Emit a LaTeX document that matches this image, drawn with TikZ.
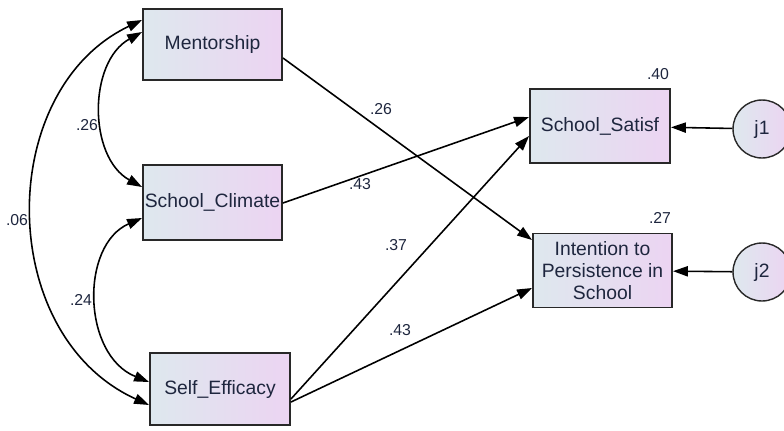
\documentclass[tikz,border=0pt]{standalone}
\usepackage{fontspec}
\setmainfont{Liberation Sans}
\usetikzlibrary{arrows.meta, positioning}
\definecolor{boxleft}{RGB}{222,232,238}
\definecolor{boxright}{RGB}{236,212,242}
\definecolor{mydark}{RGB}{40,40,40}
\definecolor{txtblue}{RGB}{30,38,62}
\tikzset{
  varbox/.style={rectangle, draw=mydark, left color=boxleft, right color=boxright,
    line width=1.1pt, align=center, font=\fontsize{11pt}{12.6pt}\selectfont,
    text=txtblue, inner sep=0pt},
  errcirc/.style={circle, draw=mydark, left color=boxleft, right color=boxright,
    line width=0.8pt, minimum size=33pt, inner sep=0pt,
    font=\fontsize{11pt}{12.6pt}\selectfont, text=txtblue},
  effect/.style={-{Triangle[length=8.5pt,width=5.8pt]}, line width=0.9pt, color=black},
  covar/.style={{Triangle[length=8.5pt,width=5.8pt]}-{Triangle[length=8.5pt,width=5.8pt]},
    line width=0.9pt, color=black},
  coef/.style={font=\fontsize{9pt}{10pt}\selectfont, text=txtblue, inner sep=0pt}
}
\begin{document}
\begin{tikzpicture}[x=0.02cm, y=-0.02cm]
  \useasboundingbox (0,0) rectangle (784,430);

  % exogenous variables
  \node[varbox, minimum width=139*0.02cm, minimum height=71*0.02cm] (mentor) at (212.5,44.5) {Mentorship};
  \node[varbox, minimum width=139*0.02cm, minimum height=75*0.02cm] (climate) at (212.5,202.5) {School\_Climate};
  \node[varbox, minimum width=140*0.02cm, minimum height=72*0.02cm] (efficacy) at (220,389) {Self\_Efficacy};

  % endogenous variables
  \node[varbox, minimum width=140*0.02cm, minimum height=74*0.02cm] (satisf) at (600,126) {School\_Satisf};
  \node[varbox, minimum width=139*0.02cm, minimum height=74*0.02cm] (intent) at (602.5,270.5) {Intention to\\Persistence in\\School};

  % errors
  \node[errcirc] (j1) at (762,129) {j1};
  \node[errcirc] (j2) at (762,272) {j2};

  % paths
  \draw[effect] (mentor.east |- 0,58) coordinate (m1) -- (intent.north west |- 0,240) coordinate (i1);
  \draw[effect] (climate.east |- 0,203) coordinate (c1) -- (satisf.west |- 0,117) coordinate (s1);
  \draw[effect] (efficacy.east |- 0,399) coordinate (e1) -- (satisf.west |- 0,136) coordinate (s2);
  \draw[effect] (efficacy.east |- 0,402) coordinate (e2) -- (intent.west |- 0,288) coordinate (i2);
  \draw[effect] (j1) -- (satisf);
  \draw[effect] (j2) -- (intent);

  % covariances
  \draw[covar] (mentor.west |- 0,32) coordinate (m2) .. controls (88,62) and (88,157) .. (climate.west |- 0,187) coordinate (c2);
  \draw[covar] (mentor.west |- 0,20) coordinate (m3) .. controls (-5,90) and (-5,335) .. (efficacy.west |- 0,405) coordinate (e3);
  \draw[covar] (climate.west |- 0,218) coordinate (c3) .. controls (80,245) and (82,355) .. (efficacy.west |- 0,382) coordinate (e4);

  % estimates
  \node[coef] (r2a) at (658,74) {.40};
  \node[coef] (r2b) at (660,218) {.27};
  \node[coef] (bmi) at (381,109) {.26};
  \node[coef] (bcs) at (360,184) {.43};
  \node[coef] (bes) at (396,245) {.37};
  \node[coef] (bei) at (400,330) {.43};
  \node[coef] (cmc) at (87,125) {.26};
  \node[coef] (cme) at (17,220) {.06};
  \node[coef] (cce) at (81,300) {.24};
\end{tikzpicture}
\end{document}
